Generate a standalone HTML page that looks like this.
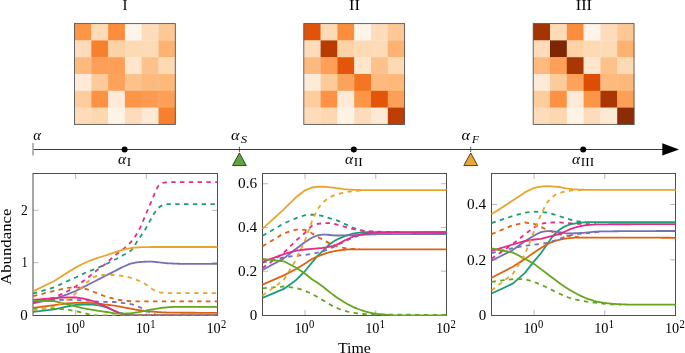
<!DOCTYPE html><html><head><meta charset="utf-8"><style>html,body{margin:0;padding:0;background:#fff;overflow:hidden}svg{display:block;will-change:transform}</style></head><body>
<svg width="685" height="353" viewBox="0 0 685 353">
<rect width="685" height="353" fill="#fff"/>
<text x="122.60" y="9.90" font-family="Liberation Serif, serif" font-size="15.5" textLength="5.00" lengthAdjust="spacingAndGlyphs">I</text>
<text x="349.00" y="9.90" font-family="Liberation Serif, serif" font-size="15.5" textLength="10.90" lengthAdjust="spacingAndGlyphs">II</text>
<text x="575.80" y="9.90" font-family="Liberation Serif, serif" font-size="15.5" textLength="16.10" lengthAdjust="spacingAndGlyphs">III</text>
<rect x="74.50" y="23.60" width="17.10" height="17.10" fill="#fd9547"/>
<rect x="91.30" y="23.60" width="17.10" height="17.10" fill="#fddbb7"/>
<rect x="108.10" y="23.60" width="17.10" height="17.10" fill="#fd8d3c"/>
<rect x="124.90" y="23.60" width="17.10" height="17.10" fill="#fff4e9"/>
<rect x="141.70" y="23.60" width="17.10" height="17.10" fill="#fedcbb"/>
<rect x="158.50" y="23.60" width="17.10" height="17.10" fill="#fdc895"/>
<rect x="74.50" y="40.40" width="17.10" height="17.10" fill="#fedcbb"/>
<rect x="91.30" y="40.40" width="17.10" height="17.10" fill="#f87f2c"/>
<rect x="108.10" y="40.40" width="17.10" height="17.10" fill="#fdd2a6"/>
<rect x="124.90" y="40.40" width="17.10" height="17.10" fill="#fdd9b4"/>
<rect x="141.70" y="40.40" width="17.10" height="17.10" fill="#fddbb7"/>
<rect x="158.50" y="40.40" width="17.10" height="17.10" fill="#fdb272"/>
<rect x="74.50" y="57.20" width="17.10" height="17.10" fill="#fdba7f"/>
<rect x="91.30" y="57.20" width="17.10" height="17.10" fill="#fd9f56"/>
<rect x="108.10" y="57.20" width="17.10" height="17.10" fill="#fd9f56"/>
<rect x="124.90" y="57.20" width="17.10" height="17.10" fill="#fee5cc"/>
<rect x="141.70" y="57.20" width="17.10" height="17.10" fill="#fdc28c"/>
<rect x="158.50" y="57.20" width="17.10" height="17.10" fill="#fdd9b4"/>
<rect x="74.50" y="74.00" width="17.10" height="17.10" fill="#feead6"/>
<rect x="91.30" y="74.00" width="17.10" height="17.10" fill="#fdcb99"/>
<rect x="108.10" y="74.00" width="17.10" height="17.10" fill="#fda25a"/>
<rect x="124.90" y="74.00" width="17.10" height="17.10" fill="#fdc28c"/>
<rect x="141.70" y="74.00" width="17.10" height="17.10" fill="#fdba7f"/>
<rect x="158.50" y="74.00" width="17.10" height="17.10" fill="#fdb87a"/>
<rect x="74.50" y="90.80" width="17.10" height="17.10" fill="#fdcd9e"/>
<rect x="91.30" y="90.80" width="17.10" height="17.10" fill="#fd9244"/>
<rect x="108.10" y="90.80" width="17.10" height="17.10" fill="#feead6"/>
<rect x="124.90" y="90.80" width="17.10" height="17.10" fill="#fd9547"/>
<rect x="141.70" y="90.80" width="17.10" height="17.10" fill="#fd9a4f"/>
<rect x="158.50" y="90.80" width="17.10" height="17.10" fill="#fd9f56"/>
<rect x="74.50" y="107.60" width="17.10" height="17.10" fill="#fedcbb"/>
<rect x="91.30" y="107.60" width="17.10" height="17.10" fill="#fdd7b0"/>
<rect x="108.10" y="107.60" width="17.10" height="17.10" fill="#fff3e6"/>
<rect x="124.90" y="107.60" width="17.10" height="17.10" fill="#fedcbb"/>
<rect x="141.70" y="107.60" width="17.10" height="17.10" fill="#fee9d4"/>
<rect x="158.50" y="107.60" width="17.10" height="17.10" fill="#f87f2c"/>
<rect x="74.50" y="23.60" width="100.80" height="100.80" fill="none" stroke="#555" stroke-width="0.9"/>
<rect x="303.80" y="23.60" width="17.10" height="17.10" fill="#e15307"/>
<rect x="320.60" y="23.60" width="17.10" height="17.10" fill="#fddbb7"/>
<rect x="337.40" y="23.60" width="17.10" height="17.10" fill="#fd8d3c"/>
<rect x="354.20" y="23.60" width="17.10" height="17.10" fill="#fff4e9"/>
<rect x="371.00" y="23.60" width="17.10" height="17.10" fill="#fedcbb"/>
<rect x="387.80" y="23.60" width="17.10" height="17.10" fill="#fdc895"/>
<rect x="303.80" y="40.40" width="17.10" height="17.10" fill="#fedcbb"/>
<rect x="320.60" y="40.40" width="17.10" height="17.10" fill="#b83c02"/>
<rect x="337.40" y="40.40" width="17.10" height="17.10" fill="#fdd2a6"/>
<rect x="354.20" y="40.40" width="17.10" height="17.10" fill="#fdd9b4"/>
<rect x="371.00" y="40.40" width="17.10" height="17.10" fill="#fddbb7"/>
<rect x="387.80" y="40.40" width="17.10" height="17.10" fill="#fdb272"/>
<rect x="303.80" y="57.20" width="17.10" height="17.10" fill="#fdba7f"/>
<rect x="320.60" y="57.20" width="17.10" height="17.10" fill="#fd9f56"/>
<rect x="337.40" y="57.20" width="17.10" height="17.10" fill="#e35508"/>
<rect x="354.20" y="57.20" width="17.10" height="17.10" fill="#fee5cc"/>
<rect x="371.00" y="57.20" width="17.10" height="17.10" fill="#fdc28c"/>
<rect x="387.80" y="57.20" width="17.10" height="17.10" fill="#fdd9b4"/>
<rect x="303.80" y="74.00" width="17.10" height="17.10" fill="#feead6"/>
<rect x="320.60" y="74.00" width="17.10" height="17.10" fill="#fdcb99"/>
<rect x="337.40" y="74.00" width="17.10" height="17.10" fill="#fda25a"/>
<rect x="354.20" y="74.00" width="17.10" height="17.10" fill="#f57622"/>
<rect x="371.00" y="74.00" width="17.10" height="17.10" fill="#fdba7f"/>
<rect x="387.80" y="74.00" width="17.10" height="17.10" fill="#fdb87a"/>
<rect x="303.80" y="90.80" width="17.10" height="17.10" fill="#fdcd9e"/>
<rect x="320.60" y="90.80" width="17.10" height="17.10" fill="#fd9244"/>
<rect x="337.40" y="90.80" width="17.10" height="17.10" fill="#feead6"/>
<rect x="354.20" y="90.80" width="17.10" height="17.10" fill="#fd9547"/>
<rect x="371.00" y="90.80" width="17.10" height="17.10" fill="#e35508"/>
<rect x="387.80" y="90.80" width="17.10" height="17.10" fill="#fd9f56"/>
<rect x="303.80" y="107.60" width="17.10" height="17.10" fill="#fedcbb"/>
<rect x="320.60" y="107.60" width="17.10" height="17.10" fill="#fdd7b0"/>
<rect x="337.40" y="107.60" width="17.10" height="17.10" fill="#fff3e6"/>
<rect x="354.20" y="107.60" width="17.10" height="17.10" fill="#fedcbb"/>
<rect x="371.00" y="107.60" width="17.10" height="17.10" fill="#fee9d4"/>
<rect x="387.80" y="107.60" width="17.10" height="17.10" fill="#bc3e02"/>
<rect x="303.80" y="23.60" width="100.80" height="100.80" fill="none" stroke="#555" stroke-width="0.9"/>
<rect x="533.20" y="23.60" width="17.10" height="17.10" fill="#a43503"/>
<rect x="550.00" y="23.60" width="17.10" height="17.10" fill="#fddbb7"/>
<rect x="566.80" y="23.60" width="17.10" height="17.10" fill="#fd8d3c"/>
<rect x="583.60" y="23.60" width="17.10" height="17.10" fill="#fff4e9"/>
<rect x="600.40" y="23.60" width="17.10" height="17.10" fill="#fedcbb"/>
<rect x="617.20" y="23.60" width="17.10" height="17.10" fill="#fdc895"/>
<rect x="533.20" y="40.40" width="17.10" height="17.10" fill="#fedcbb"/>
<rect x="550.00" y="40.40" width="17.10" height="17.10" fill="#7f2704"/>
<rect x="566.80" y="40.40" width="17.10" height="17.10" fill="#fdd2a6"/>
<rect x="583.60" y="40.40" width="17.10" height="17.10" fill="#fdd9b4"/>
<rect x="600.40" y="40.40" width="17.10" height="17.10" fill="#fddbb7"/>
<rect x="617.20" y="40.40" width="17.10" height="17.10" fill="#fdb272"/>
<rect x="533.20" y="57.20" width="17.10" height="17.10" fill="#fdba7f"/>
<rect x="550.00" y="57.20" width="17.10" height="17.10" fill="#fd9f56"/>
<rect x="566.80" y="57.20" width="17.10" height="17.10" fill="#a83703"/>
<rect x="583.60" y="57.20" width="17.10" height="17.10" fill="#fee5cc"/>
<rect x="600.40" y="57.20" width="17.10" height="17.10" fill="#fdc28c"/>
<rect x="617.20" y="57.20" width="17.10" height="17.10" fill="#fdd9b4"/>
<rect x="533.20" y="74.00" width="17.10" height="17.10" fill="#feead6"/>
<rect x="550.00" y="74.00" width="17.10" height="17.10" fill="#fdcb99"/>
<rect x="566.80" y="74.00" width="17.10" height="17.10" fill="#fda25a"/>
<rect x="583.60" y="74.00" width="17.10" height="17.10" fill="#dd4d04"/>
<rect x="600.40" y="74.00" width="17.10" height="17.10" fill="#fdba7f"/>
<rect x="617.20" y="74.00" width="17.10" height="17.10" fill="#fdb87a"/>
<rect x="533.20" y="90.80" width="17.10" height="17.10" fill="#fdcd9e"/>
<rect x="550.00" y="90.80" width="17.10" height="17.10" fill="#fd9244"/>
<rect x="566.80" y="90.80" width="17.10" height="17.10" fill="#feead6"/>
<rect x="583.60" y="90.80" width="17.10" height="17.10" fill="#fd9547"/>
<rect x="600.40" y="90.80" width="17.10" height="17.10" fill="#a83703"/>
<rect x="617.20" y="90.80" width="17.10" height="17.10" fill="#fd9f56"/>
<rect x="533.20" y="107.60" width="17.10" height="17.10" fill="#fedcbb"/>
<rect x="550.00" y="107.60" width="17.10" height="17.10" fill="#fdd7b0"/>
<rect x="566.80" y="107.60" width="17.10" height="17.10" fill="#fff3e6"/>
<rect x="583.60" y="107.60" width="17.10" height="17.10" fill="#fedcbb"/>
<rect x="600.40" y="107.60" width="17.10" height="17.10" fill="#fee9d4"/>
<rect x="617.20" y="107.60" width="17.10" height="17.10" fill="#8b2c04"/>
<rect x="533.20" y="23.60" width="100.80" height="100.80" fill="none" stroke="#555" stroke-width="0.9"/>
<line x1="33.2" y1="149.5" x2="664" y2="149.5" stroke="#3a3a3a" stroke-width="1.1"/>
<line x1="33.0" y1="143.0" x2="33.0" y2="155.6" stroke="#a8a8a8" stroke-width="1.7"/>
<path d="M662.3,143.2 L679,149.4 L662.3,155.6 Z" fill="#000"/>
<circle cx="124.6" cy="149.5" r="3" fill="#000"/>
<circle cx="353.8" cy="149.5" r="3" fill="#000"/>
<circle cx="583.2" cy="149.5" r="3" fill="#000"/>
<line x1="239.4" y1="146.8" x2="239.4" y2="152" stroke="#333" stroke-width="0.8"/>
<path d="M239.4,152.9 L246.3,165.6 L232.5,165.6 Z" fill="#5fa53a" stroke="#111" stroke-width="0.75" stroke-linejoin="miter"/>
<line x1="470.7" y1="146.8" x2="470.7" y2="152" stroke="#333" stroke-width="0.8"/>
<path d="M470.7,152.9 L477.59999999999997,165.6 L463.8,165.6 Z" fill="#eba82e" stroke="#111" stroke-width="0.75" stroke-linejoin="miter"/>
<text x="33.30" y="140.00" font-family="Liberation Serif, serif" font-size="15" font-style="italic" textLength="7.70" lengthAdjust="spacingAndGlyphs">α</text>
<text x="230.90" y="140.00" font-family="Liberation Serif, serif" font-size="15" font-style="italic" textLength="8.50" lengthAdjust="spacingAndGlyphs">α</text>
<text x="240.80" y="142.70" font-family="Liberation Serif, serif" font-size="11.2" font-style="italic" textLength="6.40" lengthAdjust="spacingAndGlyphs">S</text>
<text x="461.40" y="140.00" font-family="Liberation Serif, serif" font-size="15" font-style="italic" textLength="8.50" lengthAdjust="spacingAndGlyphs">α</text>
<text x="472.00" y="142.70" font-family="Liberation Serif, serif" font-size="11.2" font-style="italic" textLength="6.90" lengthAdjust="spacingAndGlyphs">F</text>
<text x="117.90" y="163.80" font-family="Liberation Serif, serif" font-size="15" font-style="italic" textLength="8.10" lengthAdjust="spacingAndGlyphs">α</text>
<text x="126.80" y="165.90" font-family="Liberation Serif, serif" font-size="12.4" textLength="4.40" lengthAdjust="spacingAndGlyphs">I</text>
<text x="344.90" y="163.80" font-family="Liberation Serif, serif" font-size="15" font-style="italic" textLength="8.10" lengthAdjust="spacingAndGlyphs">α</text>
<text x="353.80" y="165.90" font-family="Liberation Serif, serif" font-size="12.4" textLength="8.90" lengthAdjust="spacingAndGlyphs">II</text>
<text x="571.90" y="163.80" font-family="Liberation Serif, serif" font-size="15" font-style="italic" textLength="8.10" lengthAdjust="spacingAndGlyphs">α</text>
<text x="580.80" y="165.90" font-family="Liberation Serif, serif" font-size="12.4" textLength="13.30" lengthAdjust="spacingAndGlyphs">III</text>
<clipPath id="clip0"><rect x="32.4" y="172.9" width="185.7" height="143.0"/></clipPath>
<line x1="75.57" y1="315.5" x2="75.57" y2="310.0" stroke="#b0b0b0" stroke-width="0.9"/>
<line x1="75.57" y1="173.5" x2="75.57" y2="179.0" stroke="#b0b0b0" stroke-width="0.9"/>
<line x1="146.29" y1="315.5" x2="146.29" y2="310.0" stroke="#b0b0b0" stroke-width="0.9"/>
<line x1="146.29" y1="173.5" x2="146.29" y2="179.0" stroke="#b0b0b0" stroke-width="0.9"/>
<line x1="33.0" y1="262.70" x2="38.5" y2="262.70" stroke="#b0b0b0" stroke-width="0.9"/>
<line x1="217.5" y1="262.70" x2="212.0" y2="262.70" stroke="#b0b0b0" stroke-width="0.9"/>
<line x1="33.0" y1="210.30" x2="38.5" y2="210.30" stroke="#b0b0b0" stroke-width="0.9"/>
<line x1="217.5" y1="210.30" x2="212.0" y2="210.30" stroke="#b0b0b0" stroke-width="0.9"/>
<rect x="33.0" y="173.5" width="184.5" height="142.0" fill="none" stroke="#4d4d4d" stroke-width="1"/>
<g clip-path="url(#clip0)">
<path d="M33.0,311.90 L54.3,309.37 L66.7,306.67 L75.6,304.94 L82.4,304.50 L88.0,304.50 L92.8,304.56 L96.9,305.06 L100.5,305.68 L103.7,306.56 L106.6,307.52 L109.3,308.61 L111.8,309.70 L114.0,310.72 L116.2,311.64 L118.1,312.28 L120.0,312.79 L121.8,313.22 L123.4,313.59 L125.0,313.90 L126.5,314.17 L127.9,314.41 L129.3,314.66 L130.6,314.88 L131.9,315.07 L133.1,315.21 L134.2,315.28 L135.3,315.30 L136.4,315.30 L137.5,315.30 L138.5,315.30 L139.4,315.30 L140.4,315.30 L141.3,315.30 L142.2,315.30 L143.1,315.30 L143.9,315.30 L144.7,315.30 L146.3,315.30 L147.8,315.30 L149.2,315.30 L150.6,315.30 L151.9,315.30 L153.1,315.30 L154.3,315.30 L155.5,315.30 L156.6,315.30 L157.7,315.30 L158.7,315.30 L159.7,315.30 L160.7,315.30 L161.7,315.30 L162.6,315.30 L163.5,315.30 L164.3,315.30 L165.2,315.30 L166.0,315.30 L167.2,315.30 L168.3,315.30 L169.4,315.30 L170.5,315.30 L171.5,315.30 L172.5,315.30 L173.5,315.30 L174.4,315.30 L175.3,315.30 L176.2,315.30 L177.1,315.30 L177.9,315.30 L178.7,315.30 L179.8,315.30 L180.8,315.30 L181.8,315.30 L182.7,315.30 L183.6,315.30 L184.5,315.30 L185.4,315.30 L186.3,315.30 L187.1,315.30 L187.9,315.30 L188.9,315.30 L189.8,315.30 L190.7,315.30 L191.6,315.30 L192.5,315.30 L193.3,315.30 L194.1,315.30 L195.1,315.30 L196.0,315.30 L196.9,315.30 L197.8,315.30 L198.6,315.30 L199.5,315.30 L200.3,315.30 L201.2,315.30 L202.1,315.30 L202.9,315.30 L203.8,315.30 L204.6,315.30 L205.5,315.30 L206.4,315.30 L207.2,315.30 L208.1,315.30 L208.9,315.30 L209.8,315.30 L210.6,315.30 L211.5,315.30 L212.3,315.30 L213.2,315.30 L214.0,315.30 L214.9,315.30 L215.7,315.30 L216.5,315.30 L217.5,315.30" fill="none" stroke="#1b9e77" stroke-width="1.8" stroke-linejoin="round"/>
<path d="M33.0,293.60 L54.3,287.23 L66.7,281.45 L75.6,277.46 L82.4,274.08 L88.0,271.71 L92.8,269.83 L96.9,268.15 L100.5,266.61 L103.7,265.19 L106.6,263.86 L109.3,262.56 L111.8,261.31 L114.0,260.10 L116.2,258.95 L118.1,257.86 L120.0,256.83 L121.8,255.88 L123.4,255.05 L125.0,254.28 L126.5,253.51 L127.9,252.70 L129.3,251.81 L130.6,250.82 L131.9,249.65 L133.1,248.10 L134.2,246.32 L135.3,244.45 L136.4,242.61 L137.5,240.90 L138.5,239.37 L139.4,237.97 L140.4,236.64 L141.3,235.35 L142.2,234.09 L143.1,232.85 L143.9,231.60 L144.7,230.34 L146.3,227.72 L147.8,224.97 L149.2,222.27 L150.6,219.78 L151.9,217.49 L153.1,215.27 L154.3,213.24 L155.5,211.49 L156.6,210.05 L157.7,208.74 L158.7,207.60 L159.7,206.72 L160.7,206.13 L161.7,205.65 L162.6,205.22 L163.5,204.85 L164.3,204.56 L165.2,204.35 L166.0,204.23 L167.2,204.20 L168.3,204.20 L169.4,204.20 L170.5,204.20 L171.5,204.20 L172.5,204.20 L173.5,204.20 L174.4,204.20 L175.3,204.20 L176.2,204.20 L177.1,204.20 L177.9,204.20 L178.7,204.20 L179.8,204.20 L180.8,204.20 L181.8,204.20 L182.7,204.20 L183.6,204.20 L184.5,204.20 L185.4,204.20 L186.3,204.20 L187.1,204.20 L187.9,204.20 L188.9,204.20 L189.8,204.20 L190.7,204.20 L191.6,204.20 L192.5,204.20 L193.3,204.20 L194.1,204.20 L195.1,204.20 L196.0,204.20 L196.9,204.20 L197.8,204.20 L198.6,204.20 L199.5,204.20 L200.3,204.20 L201.2,204.20 L202.1,204.20 L202.9,204.20 L203.8,204.20 L204.6,204.20 L205.5,204.20 L206.4,204.20 L207.2,204.20 L208.1,204.20 L208.9,204.20 L209.8,204.20 L210.6,204.20 L211.5,204.20 L212.3,204.20 L213.2,204.20 L214.0,204.20 L214.9,204.20 L215.7,204.20 L216.5,204.20 L217.5,204.20" fill="none" stroke="#1b9e77" stroke-width="1.8" stroke-linejoin="round" stroke-dasharray="4.4 4.4"/>
<path d="M33.0,307.80 L54.3,305.10 L66.7,303.40 L75.6,302.79 L82.4,302.60 L88.0,302.85 L92.8,303.22 L96.9,303.61 L100.5,303.98 L103.7,304.33 L106.6,304.68 L109.3,305.01 L111.8,305.34 L114.0,305.66 L116.2,305.97 L118.1,306.29 L120.0,306.61 L121.8,306.95 L123.4,307.28 L125.0,307.61 L126.5,307.91 L127.9,308.18 L129.3,308.44 L130.6,308.69 L131.9,308.93 L133.1,309.15 L134.2,309.35 L135.3,309.54 L136.4,309.72 L137.5,309.88 L138.5,310.03 L139.4,310.18 L140.4,310.31 L141.3,310.44 L142.2,310.56 L143.1,310.67 L143.9,310.77 L144.7,310.87 L146.3,311.04 L147.8,311.18 L149.2,311.31 L150.6,311.43 L151.9,311.54 L153.1,311.65 L154.3,311.74 L155.5,311.84 L156.6,311.94 L157.7,312.03 L158.7,312.11 L159.7,312.19 L160.7,312.26 L161.7,312.32 L162.6,312.36 L163.5,312.40 L164.3,312.44 L165.2,312.47 L166.0,312.50 L167.2,312.54 L168.3,312.57 L169.4,312.61 L170.5,312.63 L171.5,312.65 L172.5,312.67 L173.5,312.69 L174.4,312.70 L175.3,312.70 L176.2,312.71 L177.1,312.71 L177.9,312.71 L178.7,312.72 L179.8,312.72 L180.8,312.73 L181.8,312.73 L182.7,312.74 L183.6,312.74 L184.5,312.74 L185.4,312.75 L186.3,312.75 L187.1,312.75 L187.9,312.75 L188.9,312.76 L189.8,312.76 L190.7,312.76 L191.6,312.77 L192.5,312.77 L193.3,312.77 L194.1,312.77 L195.1,312.77 L196.0,312.78 L196.9,312.78 L197.8,312.78 L198.6,312.78 L199.5,312.78 L200.3,312.79 L201.2,312.79 L202.1,312.79 L202.9,312.79 L203.8,312.79 L204.6,312.79 L205.5,312.79 L206.4,312.79 L207.2,312.79 L208.1,312.80 L208.9,312.80 L209.8,312.80 L210.6,312.80 L211.5,312.80 L212.3,312.80 L213.2,312.80 L214.0,312.80 L214.9,312.80 L215.7,312.80 L216.5,312.80 L217.5,312.80" fill="none" stroke="#dc6210" stroke-width="1.8" stroke-linejoin="round"/>
<path d="M33.0,296.25 L54.3,290.80 L66.7,287.88 L75.6,287.24 L82.4,287.90 L88.0,289.60 L92.8,291.44 L96.9,293.08 L100.5,294.59 L103.7,295.78 L106.6,296.72 L109.3,297.52 L111.8,298.18 L114.0,298.72 L116.2,299.21 L118.1,299.64 L120.0,300.01 L121.8,300.31 L123.4,300.53 L125.0,300.71 L126.5,300.86 L127.9,301.01 L129.3,301.13 L130.6,301.23 L131.9,301.31 L133.1,301.37 L134.2,301.40 L135.3,301.40 L136.4,301.40 L137.5,301.40 L138.5,301.40 L139.4,301.40 L140.4,301.40 L141.3,301.40 L142.2,301.40 L143.1,301.40 L143.9,301.40 L144.7,301.40 L146.3,301.40 L147.8,301.40 L149.2,301.40 L150.6,301.40 L151.9,301.40 L153.1,301.40 L154.3,301.40 L155.5,301.40 L156.6,301.40 L157.7,301.40 L158.7,301.40 L159.7,301.40 L160.7,301.40 L161.7,301.40 L162.6,301.40 L163.5,301.40 L164.3,301.40 L165.2,301.40 L166.0,301.40 L167.2,301.40 L168.3,301.40 L169.4,301.40 L170.5,301.40 L171.5,301.40 L172.5,301.40 L173.5,301.40 L174.4,301.40 L175.3,301.40 L176.2,301.40 L177.1,301.40 L177.9,301.40 L178.7,301.40 L179.8,301.40 L180.8,301.40 L181.8,301.40 L182.7,301.40 L183.6,301.40 L184.5,301.40 L185.4,301.40 L186.3,301.40 L187.1,301.40 L187.9,301.40 L188.9,301.40 L189.8,301.40 L190.7,301.40 L191.6,301.40 L192.5,301.40 L193.3,301.40 L194.1,301.40 L195.1,301.40 L196.0,301.40 L196.9,301.40 L197.8,301.40 L198.6,301.40 L199.5,301.40 L200.3,301.40 L201.2,301.40 L202.1,301.40 L202.9,301.40 L203.8,301.40 L204.6,301.40 L205.5,301.40 L206.4,301.40 L207.2,301.40 L208.1,301.40 L208.9,301.40 L209.8,301.40 L210.6,301.40 L211.5,301.40 L212.3,301.40 L213.2,301.40 L214.0,301.40 L214.9,301.40 L215.7,301.40 L216.5,301.40 L217.5,301.40" fill="none" stroke="#dc6210" stroke-width="1.8" stroke-linejoin="round" stroke-dasharray="4.4 4.4"/>
<path d="M33.0,303.30 L54.3,298.76 L66.7,294.70 L75.6,291.04 L82.4,287.62 L88.0,284.69 L92.8,282.30 L96.9,280.23 L100.5,278.41 L103.7,276.76 L106.6,275.27 L109.3,273.92 L111.8,272.67 L114.0,271.51 L116.2,270.40 L118.1,269.36 L120.0,268.39 L121.8,267.51 L123.4,266.71 L125.0,266.00 L126.5,265.34 L127.9,264.71 L129.3,264.17 L130.6,263.74 L131.9,263.41 L133.1,263.12 L134.2,262.86 L135.3,262.63 L136.4,262.44 L137.5,262.27 L138.5,262.14 L139.4,262.04 L140.4,261.98 L141.3,261.92 L142.2,261.86 L143.1,261.81 L143.9,261.77 L144.7,261.73 L146.3,261.67 L147.8,261.62 L149.2,261.60 L150.6,261.61 L151.9,261.66 L153.1,261.75 L154.3,261.86 L155.5,261.99 L156.6,262.12 L157.7,262.25 L158.7,262.37 L159.7,262.48 L160.7,262.57 L161.7,262.67 L162.6,262.77 L163.5,262.87 L164.3,262.96 L165.2,263.05 L166.0,263.13 L167.2,263.23 L168.3,263.30 L169.4,263.36 L170.5,263.42 L171.5,263.47 L172.5,263.52 L173.5,263.56 L174.4,263.61 L175.3,263.64 L176.2,263.68 L177.1,263.71 L177.9,263.73 L178.7,263.75 L179.8,263.77 L180.8,263.79 L181.8,263.80 L182.7,263.80 L183.6,263.80 L184.5,263.80 L185.4,263.80 L186.3,263.80 L187.1,263.80 L187.9,263.80 L188.9,263.80 L189.8,263.80 L190.7,263.80 L191.6,263.80 L192.5,263.80 L193.3,263.80 L194.1,263.80 L195.1,263.80 L196.0,263.80 L196.9,263.80 L197.8,263.80 L198.6,263.80 L199.5,263.80 L200.3,263.80 L201.2,263.80 L202.1,263.80 L202.9,263.80 L203.8,263.80 L204.6,263.80 L205.5,263.80 L206.4,263.80 L207.2,263.80 L208.1,263.80 L208.9,263.80 L209.8,263.80 L210.6,263.80 L211.5,263.80 L212.3,263.80 L213.2,263.80 L214.0,263.80 L214.9,263.80 L215.7,263.80 L216.5,263.80 L217.5,263.80" fill="none" stroke="#7570b3" stroke-width="1.8" stroke-linejoin="round"/>
<path d="M33.0,301.01 L54.3,300.11 L66.7,299.90 L75.6,299.98 L82.4,300.28 L88.0,300.72 L92.8,301.18 L96.9,301.52 L100.5,301.72 L103.7,301.86 L106.6,301.92 L109.3,301.95 L111.8,301.97 L114.0,302.02 L116.2,302.16 L118.1,302.37 L120.0,302.61 L121.8,302.83 L123.4,303.04 L125.0,303.23 L126.5,303.43 L127.9,303.64 L129.3,303.87 L130.6,304.12 L131.9,304.40 L133.1,304.72 L134.2,305.09 L135.3,305.48 L136.4,305.89 L137.5,306.31 L138.5,306.73 L139.4,307.14 L140.4,307.56 L141.3,308.02 L142.2,308.51 L143.1,309.01 L143.9,309.51 L144.7,310.00 L146.3,310.90 L147.8,311.64 L149.2,312.28 L150.6,312.87 L151.9,313.40 L153.1,313.84 L154.3,314.21 L155.5,314.51 L156.6,314.79 L157.7,315.04 L158.7,315.21 L159.7,315.30 L160.7,315.30 L161.7,315.30 L162.6,315.30 L163.5,315.30 L164.3,315.30 L165.2,315.30 L166.0,315.30 L167.2,315.30 L168.3,315.30 L169.4,315.30 L170.5,315.30 L171.5,315.30 L172.5,315.30 L173.5,315.30 L174.4,315.30 L175.3,315.30 L176.2,315.30 L177.1,315.30 L177.9,315.30 L178.7,315.30 L179.8,315.30 L180.8,315.30 L181.8,315.30 L182.7,315.30 L183.6,315.30 L184.5,315.30 L185.4,315.30 L186.3,315.30 L187.1,315.30 L187.9,315.30 L188.9,315.30 L189.8,315.30 L190.7,315.30 L191.6,315.30 L192.5,315.30 L193.3,315.30 L194.1,315.30 L195.1,315.30 L196.0,315.30 L196.9,315.30 L197.8,315.30 L198.6,315.30 L199.5,315.30 L200.3,315.30 L201.2,315.30 L202.1,315.30 L202.9,315.30 L203.8,315.30 L204.6,315.30 L205.5,315.30 L206.4,315.30 L207.2,315.30 L208.1,315.30 L208.9,315.30 L209.8,315.30 L210.6,315.30 L211.5,315.30 L212.3,315.30 L213.2,315.30 L214.0,315.30 L214.9,315.30 L215.7,315.30 L216.5,315.30 L217.5,315.30" fill="none" stroke="#7570b3" stroke-width="1.8" stroke-linejoin="round" stroke-dasharray="4.4 4.4"/>
<path d="M33.0,300.02 L54.3,298.19 L66.7,297.41 L75.6,297.49 L82.4,298.41 L88.0,299.62 L92.8,301.02 L96.9,302.67 L100.5,304.23 L103.7,305.61 L106.6,306.91 L109.3,308.18 L111.8,309.43 L114.0,310.59 L116.2,311.63 L118.1,312.62 L120.0,313.43 L121.8,314.02 L123.4,314.56 L125.0,314.99 L126.5,315.25 L127.9,315.30 L129.3,315.30 L130.6,315.30 L131.9,315.30 L133.1,315.30 L134.2,315.30 L135.3,315.30 L136.4,315.30 L137.5,315.30 L138.5,315.30 L139.4,315.30 L140.4,315.30 L141.3,315.30 L142.2,315.30 L143.1,315.30 L143.9,315.30 L144.7,315.30 L146.3,315.30 L147.8,315.30 L149.2,315.30 L150.6,315.30 L151.9,315.30 L153.1,315.30 L154.3,315.30 L155.5,315.30 L156.6,315.30 L157.7,315.30 L158.7,315.30 L159.7,315.30 L160.7,315.30 L161.7,315.30 L162.6,315.30 L163.5,315.30 L164.3,315.30 L165.2,315.30 L166.0,315.30 L167.2,315.30 L168.3,315.30 L169.4,315.30 L170.5,315.30 L171.5,315.30 L172.5,315.30 L173.5,315.30 L174.4,315.30 L175.3,315.30 L176.2,315.30 L177.1,315.30 L177.9,315.30 L178.7,315.30 L179.8,315.30 L180.8,315.30 L181.8,315.30 L182.7,315.30 L183.6,315.30 L184.5,315.30 L185.4,315.30 L186.3,315.30 L187.1,315.30 L187.9,315.30 L188.9,315.30 L189.8,315.30 L190.7,315.30 L191.6,315.30 L192.5,315.30 L193.3,315.30 L194.1,315.30 L195.1,315.30 L196.0,315.30 L196.9,315.30 L197.8,315.30 L198.6,315.30 L199.5,315.30 L200.3,315.30 L201.2,315.30 L202.1,315.30 L202.9,315.30 L203.8,315.30 L204.6,315.30 L205.5,315.30 L206.4,315.30 L207.2,315.30 L208.1,315.30 L208.9,315.30 L209.8,315.30 L210.6,315.30 L211.5,315.30 L212.3,315.30 L213.2,315.30 L214.0,315.30 L214.9,315.30 L215.7,315.30 L216.5,315.30 L217.5,315.30" fill="none" stroke="#e7298a" stroke-width="1.8" stroke-linejoin="round"/>
<path d="M33.0,302.75 L54.3,297.51 L66.7,291.74 L75.6,286.40 L82.4,281.70 L88.0,277.44 L92.8,273.51 L96.9,270.22 L100.5,267.61 L103.7,265.28 L106.6,262.96 L109.3,260.49 L111.8,258.14 L114.0,256.13 L116.2,254.46 L118.1,253.00 L120.0,251.64 L121.8,250.32 L123.4,248.98 L125.0,247.61 L126.5,246.28 L127.9,244.95 L129.3,243.62 L130.6,242.26 L131.9,240.86 L133.1,239.40 L134.2,237.87 L135.3,236.25 L136.4,234.57 L137.5,232.83 L138.5,231.04 L139.4,229.23 L140.4,227.29 L141.3,225.18 L142.2,223.02 L143.1,220.89 L143.9,218.88 L144.7,216.97 L146.3,213.26 L147.8,209.74 L149.2,206.40 L150.6,203.18 L151.9,200.09 L153.1,197.18 L154.3,194.50 L155.5,191.79 L156.6,189.13 L157.7,186.95 L158.7,185.57 L159.7,184.70 L160.7,183.98 L161.7,183.39 L162.6,182.96 L163.5,182.68 L164.3,182.57 L165.2,182.49 L166.0,182.41 L167.2,182.32 L168.3,182.25 L169.4,182.19 L170.5,182.15 L171.5,182.12 L172.5,182.11 L173.5,182.10 L174.4,182.10 L175.3,182.10 L176.2,182.10 L177.1,182.10 L177.9,182.10 L178.7,182.10 L179.8,182.10 L180.8,182.10 L181.8,182.10 L182.7,182.10 L183.6,182.10 L184.5,182.10 L185.4,182.10 L186.3,182.10 L187.1,182.10 L187.9,182.10 L188.9,182.10 L189.8,182.10 L190.7,182.10 L191.6,182.10 L192.5,182.10 L193.3,182.10 L194.1,182.10 L195.1,182.10 L196.0,182.10 L196.9,182.10 L197.8,182.10 L198.6,182.10 L199.5,182.10 L200.3,182.10 L201.2,182.10 L202.1,182.10 L202.9,182.10 L203.8,182.10 L204.6,182.10 L205.5,182.10 L206.4,182.10 L207.2,182.10 L208.1,182.10 L208.9,182.10 L209.8,182.10 L210.6,182.10 L211.5,182.10 L212.3,182.10 L213.2,182.10 L214.0,182.10 L214.9,182.10 L215.7,182.10 L216.5,182.10 L217.5,182.10" fill="none" stroke="#e7298a" stroke-width="1.8" stroke-linejoin="round" stroke-dasharray="4.4 4.4"/>
<path d="M33.0,300.90 L54.3,301.20 L66.7,304.07 L75.6,306.35 L82.4,308.08 L88.0,309.09 L92.8,309.86 L96.9,310.55 L100.5,311.12 L103.7,311.60 L106.6,312.01 L109.3,312.40 L111.8,312.81 L114.0,313.19 L116.2,313.46 L118.1,313.59 L120.0,313.60 L121.8,313.59 L123.4,313.57 L125.0,313.55 L126.5,313.52 L127.9,313.49 L129.3,313.41 L130.6,313.29 L131.9,313.14 L133.1,312.98 L134.2,312.81 L135.3,312.64 L136.4,312.48 L137.5,312.32 L138.5,312.14 L139.4,311.96 L140.4,311.76 L141.3,311.57 L142.2,311.38 L143.1,311.20 L143.9,311.02 L144.7,310.86 L146.3,310.54 L147.8,310.23 L149.2,309.94 L150.6,309.70 L151.9,309.50 L153.1,309.32 L154.3,309.14 L155.5,308.95 L156.6,308.73 L157.7,308.52 L158.7,308.31 L159.7,308.14 L160.7,308.00 L161.7,307.87 L162.6,307.76 L163.5,307.66 L164.3,307.57 L165.2,307.48 L166.0,307.40 L167.2,307.30 L168.3,307.20 L169.4,307.13 L170.5,307.08 L171.5,307.03 L172.5,306.99 L173.5,306.96 L174.4,306.93 L175.3,306.91 L176.2,306.90 L177.1,306.88 L177.9,306.87 L178.7,306.86 L179.8,306.84 L180.8,306.83 L181.8,306.82 L182.7,306.81 L183.6,306.80 L184.5,306.80 L185.4,306.80 L186.3,306.80 L187.1,306.80 L187.9,306.80 L188.9,306.80 L189.8,306.80 L190.7,306.80 L191.6,306.80 L192.5,306.80 L193.3,306.80 L194.1,306.80 L195.1,306.80 L196.0,306.80 L196.9,306.80 L197.8,306.80 L198.6,306.80 L199.5,306.80 L200.3,306.80 L201.2,306.80 L202.1,306.80 L202.9,306.80 L203.8,306.80 L204.6,306.80 L205.5,306.80 L206.4,306.80 L207.2,306.80 L208.1,306.80 L208.9,306.80 L209.8,306.80 L210.6,306.80 L211.5,306.80 L212.3,306.80 L213.2,306.80 L214.0,306.80 L214.9,306.80 L215.7,306.80 L216.5,306.80 L217.5,306.80" fill="none" stroke="#66a61e" stroke-width="1.8" stroke-linejoin="round"/>
<path d="M33.0,308.60 L54.3,308.60 L66.7,309.43 L75.6,311.12 L82.4,312.78 L88.0,314.01 L92.8,315.02 L96.9,315.30 L100.5,315.30 L103.7,315.30 L106.6,315.30 L109.3,315.30 L111.8,315.30 L114.0,315.30 L116.2,315.30 L118.1,315.30 L120.0,315.30 L121.8,315.30 L123.4,315.30 L125.0,315.30 L126.5,315.30 L127.9,315.30 L129.3,315.30 L130.6,315.30 L131.9,315.30 L133.1,315.30 L134.2,315.30 L135.3,315.30 L136.4,315.30 L137.5,315.30 L138.5,315.30 L139.4,315.30 L140.4,315.30 L141.3,315.30 L142.2,315.30 L143.1,315.30 L143.9,315.30 L144.7,315.30 L146.3,315.30 L147.8,315.30 L149.2,315.30 L150.6,315.30 L151.9,315.30 L153.1,315.30 L154.3,315.30 L155.5,315.30 L156.6,315.30 L157.7,315.30 L158.7,315.30 L159.7,315.30 L160.7,315.30 L161.7,315.30 L162.6,315.30 L163.5,315.30 L164.3,315.30 L165.2,315.30 L166.0,315.30 L167.2,315.30 L168.3,315.30 L169.4,315.30 L170.5,315.30 L171.5,315.30 L172.5,315.30 L173.5,315.30 L174.4,315.30 L175.3,315.30 L176.2,315.30 L177.1,315.30 L177.9,315.30 L178.7,315.30 L179.8,315.30 L180.8,315.30 L181.8,315.30 L182.7,315.30 L183.6,315.30 L184.5,315.30 L185.4,315.30 L186.3,315.30 L187.1,315.30 L187.9,315.30 L188.9,315.30 L189.8,315.30 L190.7,315.30 L191.6,315.30 L192.5,315.30 L193.3,315.30 L194.1,315.30 L195.1,315.30 L196.0,315.30 L196.9,315.30 L197.8,315.30 L198.6,315.30 L199.5,315.30 L200.3,315.30 L201.2,315.30 L202.1,315.30 L202.9,315.30 L203.8,315.30 L204.6,315.30 L205.5,315.30 L206.4,315.30 L207.2,315.30 L208.1,315.30 L208.9,315.30 L209.8,315.30 L210.6,315.30 L211.5,315.30 L212.3,315.30 L213.2,315.30 L214.0,315.30 L214.9,315.30 L215.7,315.30 L216.5,315.30 L217.5,315.30" fill="none" stroke="#66a61e" stroke-width="1.8" stroke-linejoin="round" stroke-dasharray="4.4 4.4"/>
<path d="M33.0,291.40 L54.3,281.01 L66.7,272.91 L75.6,267.61 L82.4,264.00 L88.0,261.51 L92.8,259.67 L96.9,258.20 L100.5,257.00 L103.7,255.99 L106.6,255.08 L109.3,254.23 L111.8,253.39 L114.0,252.57 L116.2,251.81 L118.1,251.13 L120.0,250.56 L121.8,250.09 L123.4,249.65 L125.0,249.25 L126.5,248.90 L127.9,248.60 L129.3,248.35 L130.6,248.15 L131.9,248.00 L133.1,247.86 L134.2,247.73 L135.3,247.62 L136.4,247.52 L137.5,247.43 L138.5,247.36 L139.4,247.29 L140.4,247.25 L141.3,247.21 L142.2,247.18 L143.1,247.16 L143.9,247.14 L144.7,247.12 L146.3,247.08 L147.8,247.05 L149.2,247.03 L150.6,247.01 L151.9,247.00 L153.1,247.00 L154.3,247.00 L155.5,247.00 L156.6,247.00 L157.7,247.00 L158.7,247.00 L159.7,247.00 L160.7,247.00 L161.7,247.00 L162.6,247.00 L163.5,247.00 L164.3,247.00 L165.2,247.00 L166.0,247.00 L167.2,247.00 L168.3,247.00 L169.4,247.00 L170.5,247.00 L171.5,247.00 L172.5,247.00 L173.5,247.00 L174.4,247.00 L175.3,247.00 L176.2,247.00 L177.1,247.00 L177.9,247.00 L178.7,247.00 L179.8,247.00 L180.8,247.00 L181.8,247.00 L182.7,247.00 L183.6,247.00 L184.5,247.00 L185.4,247.00 L186.3,247.00 L187.1,247.00 L187.9,247.00 L188.9,247.00 L189.8,247.00 L190.7,247.00 L191.6,247.00 L192.5,247.00 L193.3,247.00 L194.1,247.00 L195.1,247.00 L196.0,247.00 L196.9,247.00 L197.8,247.00 L198.6,247.00 L199.5,247.00 L200.3,247.00 L201.2,247.00 L202.1,247.00 L202.9,247.00 L203.8,247.00 L204.6,247.00 L205.5,247.00 L206.4,247.00 L207.2,247.00 L208.1,247.00 L208.9,247.00 L209.8,247.00 L210.6,247.00 L211.5,247.00 L212.3,247.00 L213.2,247.00 L214.0,247.00 L214.9,247.00 L215.7,247.00 L216.5,247.00 L217.5,247.00" fill="none" stroke="#e9a52a" stroke-width="1.8" stroke-linejoin="round"/>
<path d="M33.0,310.40 L54.3,306.55 L66.7,300.63 L75.6,293.47 L82.4,286.76 L88.0,281.58 L92.8,277.47 L96.9,275.95 L100.5,275.24 L103.7,275.01 L106.6,274.87 L109.3,274.81 L111.8,274.83 L114.0,274.99 L116.2,275.22 L118.1,275.47 L120.0,275.71 L121.8,275.96 L123.4,276.24 L125.0,276.53 L126.5,276.84 L127.9,277.15 L129.3,277.47 L130.6,277.81 L131.9,278.17 L133.1,278.54 L134.2,278.93 L135.3,279.33 L136.4,279.73 L137.5,280.14 L138.5,280.55 L139.4,280.98 L140.4,281.43 L141.3,281.88 L142.2,282.33 L143.1,282.79 L143.9,283.26 L144.7,283.72 L146.3,284.67 L147.8,285.73 L149.2,286.84 L150.6,287.88 L151.9,288.78 L153.1,289.48 L154.3,290.11 L155.5,290.70 L156.6,291.24 L157.7,291.71 L158.7,292.09 L159.7,292.38 L160.7,292.57 L161.7,292.67 L162.6,292.76 L163.5,292.84 L164.3,292.91 L165.2,292.96 L166.0,293.01 L167.2,293.06 L168.3,293.09 L169.4,293.10 L170.5,293.10 L171.5,293.10 L172.5,293.10 L173.5,293.10 L174.4,293.10 L175.3,293.10 L176.2,293.10 L177.1,293.10 L177.9,293.10 L178.7,293.10 L179.8,293.10 L180.8,293.10 L181.8,293.10 L182.7,293.10 L183.6,293.10 L184.5,293.10 L185.4,293.10 L186.3,293.10 L187.1,293.10 L187.9,293.10 L188.9,293.10 L189.8,293.10 L190.7,293.10 L191.6,293.10 L192.5,293.10 L193.3,293.10 L194.1,293.10 L195.1,293.10 L196.0,293.10 L196.9,293.10 L197.8,293.10 L198.6,293.10 L199.5,293.10 L200.3,293.10 L201.2,293.10 L202.1,293.10 L202.9,293.10 L203.8,293.10 L204.6,293.10 L205.5,293.10 L206.4,293.10 L207.2,293.10 L208.1,293.10 L208.9,293.10 L209.8,293.10 L210.6,293.10 L211.5,293.10 L212.3,293.10 L213.2,293.10 L214.0,293.10 L214.9,293.10 L215.7,293.10 L216.5,293.10 L217.5,293.10" fill="none" stroke="#e9a52a" stroke-width="1.8" stroke-linejoin="round" stroke-dasharray="4.4 4.4"/>
</g>
<text x="20.20" y="320.40" font-family="Liberation Serif, serif" font-size="13.8" textLength="7.50" lengthAdjust="spacingAndGlyphs">0</text>
<text x="21.50" y="267.40" font-family="Liberation Serif, serif" font-size="13.8" textLength="6.20" lengthAdjust="spacingAndGlyphs">1</text>
<text x="20.90" y="215.00" font-family="Liberation Serif, serif" font-size="13.8" textLength="6.80" lengthAdjust="spacingAndGlyphs">2</text>
<text x="64.97" y="333.00" font-family="Liberation Serif, serif" font-size="14.0" textLength="14.30" lengthAdjust="spacingAndGlyphs">10</text>
<text x="79.47" y="327.70" font-family="Liberation Serif, serif" font-size="11.7" textLength="5.30" lengthAdjust="spacingAndGlyphs">0</text>
<text x="135.69" y="333.00" font-family="Liberation Serif, serif" font-size="14.0" textLength="14.30" lengthAdjust="spacingAndGlyphs">10</text>
<text x="150.19" y="327.70" font-family="Liberation Serif, serif" font-size="11.7" textLength="5.30" lengthAdjust="spacingAndGlyphs">1</text>
<text x="206.40" y="333.00" font-family="Liberation Serif, serif" font-size="14.0" textLength="14.30" lengthAdjust="spacingAndGlyphs">10</text>
<text x="220.90" y="327.70" font-family="Liberation Serif, serif" font-size="11.7" textLength="5.30" lengthAdjust="spacingAndGlyphs">2</text>
<clipPath id="clip1"><rect x="261.9" y="172.9" width="185.2" height="143.0"/></clipPath>
<line x1="305.07" y1="315.5" x2="305.07" y2="310.0" stroke="#b0b0b0" stroke-width="0.9"/>
<line x1="305.07" y1="173.5" x2="305.07" y2="179.0" stroke="#b0b0b0" stroke-width="0.9"/>
<line x1="375.79" y1="315.5" x2="375.79" y2="310.0" stroke="#b0b0b0" stroke-width="0.9"/>
<line x1="375.79" y1="173.5" x2="375.79" y2="179.0" stroke="#b0b0b0" stroke-width="0.9"/>
<line x1="262.5" y1="271.18" x2="268.0" y2="271.18" stroke="#b0b0b0" stroke-width="0.9"/>
<line x1="446.5" y1="271.18" x2="441.0" y2="271.18" stroke="#b0b0b0" stroke-width="0.9"/>
<line x1="262.5" y1="227.46" x2="268.0" y2="227.46" stroke="#b0b0b0" stroke-width="0.9"/>
<line x1="446.5" y1="227.46" x2="441.0" y2="227.46" stroke="#b0b0b0" stroke-width="0.9"/>
<line x1="262.5" y1="183.74" x2="268.0" y2="183.74" stroke="#b0b0b0" stroke-width="0.9"/>
<line x1="446.5" y1="183.74" x2="441.0" y2="183.74" stroke="#b0b0b0" stroke-width="0.9"/>
<rect x="262.5" y="173.5" width="184.0" height="142.0" fill="none" stroke="#4d4d4d" stroke-width="1"/>
<g clip-path="url(#clip1)">
<path d="M262.5,297.92 L283.8,288.91 L296.2,279.97 L305.1,271.03 L311.9,262.69 L317.5,255.94 L322.3,251.37 L326.4,247.40 L330.0,244.02 L333.2,241.73 L336.1,240.03 L338.8,238.67 L341.3,237.57 L343.5,236.67 L345.7,235.91 L347.6,235.22 L349.5,234.61 L351.3,234.08 L352.9,233.65 L354.5,233.31 L356.0,233.07 L357.4,232.91 L358.8,232.78 L360.1,232.65 L361.4,232.54 L362.6,232.44 L363.7,232.36 L364.8,232.28 L365.9,232.22 L367.0,232.18 L368.0,232.14 L368.9,232.12 L369.9,232.10 L370.8,232.10 L371.7,232.10 L372.6,232.10 L373.4,232.10 L374.2,232.10 L375.8,232.10 L377.3,232.10 L378.7,232.10 L380.1,232.10 L381.4,232.10 L382.6,232.10 L383.8,232.10 L385.0,232.10 L386.1,232.10 L387.2,232.10 L388.2,232.10 L389.2,232.10 L390.2,232.10 L391.2,232.10 L392.1,232.10 L393.0,232.10 L393.8,232.10 L394.7,232.10 L395.5,232.10 L396.7,232.10 L397.8,232.10 L398.9,232.11 L400.0,232.11 L401.0,232.11 L402.0,232.11 L403.0,232.11 L403.9,232.11 L404.8,232.11 L405.7,232.11 L406.6,232.11 L407.4,232.11 L408.2,232.11 L409.3,232.11 L410.3,232.11 L411.3,232.12 L412.2,232.12 L413.1,232.12 L414.0,232.12 L414.9,232.12 L415.8,232.12 L416.6,232.12 L417.4,232.12 L418.4,232.12 L419.3,232.13 L420.2,232.13 L421.1,232.13 L422.0,232.13 L422.8,232.13 L423.6,232.13 L424.6,232.14 L425.5,232.14 L426.4,232.14 L427.3,232.14 L428.1,232.14 L429.0,232.15 L429.8,232.15 L430.7,232.15 L431.6,232.15 L432.4,232.15 L433.3,232.16 L434.1,232.16 L435.0,232.16 L435.9,232.16 L436.7,232.17 L437.6,232.17 L438.4,232.17 L439.3,232.17 L440.1,232.18 L441.0,232.18 L441.8,232.18 L442.7,232.19 L443.5,232.19 L444.4,232.19 L445.2,232.19 L446.0,232.20 L446.5,232.20" fill="none" stroke="#1b9e77" stroke-width="1.8" stroke-linejoin="round"/>
<path d="M262.5,235.83 L283.8,223.44 L296.2,218.11 L305.1,215.15 L311.9,214.61 L317.5,215.04 L322.3,215.96 L326.4,217.14 L330.0,218.29 L333.2,219.17 L336.1,220.05 L338.8,221.11 L341.3,222.26 L343.5,223.36 L345.7,224.35 L347.6,225.24 L349.5,226.11 L351.3,226.93 L352.9,227.66 L354.5,228.29 L356.0,228.82 L357.4,229.24 L358.8,229.63 L360.1,229.98 L361.4,230.30 L362.6,230.59 L363.7,230.83 L364.8,231.03 L365.9,231.18 L367.0,231.30 L368.0,231.38 L368.9,231.46 L369.9,231.54 L370.8,231.61 L371.7,231.67 L372.6,231.73 L373.4,231.78" fill="none" stroke="#1b9e77" stroke-width="1.8" stroke-linejoin="round" stroke-dasharray="4.4 4.4"/>
<path d="M262.5,284.64 L283.8,275.41 L296.2,268.98 L305.1,263.42 L311.9,259.04 L317.5,256.37 L322.3,254.57 L326.4,253.20 L330.0,252.13 L333.2,251.34 L336.1,250.82 L338.8,250.41 L341.3,250.07 L343.5,249.79 L345.7,249.59 L347.6,249.46 L349.5,249.40 L351.3,249.38 L352.9,249.36 L354.5,249.35 L356.0,249.34 L357.4,249.33 L358.8,249.32 L360.1,249.31 L361.4,249.31 L362.6,249.30 L363.7,249.30 L364.8,249.30 L365.9,249.30 L367.0,249.30 L368.0,249.30 L368.9,249.30 L369.9,249.30 L370.8,249.30 L371.7,249.30 L372.6,249.30 L373.4,249.30 L374.2,249.30 L375.8,249.30 L377.3,249.30 L378.7,249.30 L380.1,249.30 L381.4,249.30 L382.6,249.30 L383.8,249.30 L385.0,249.30 L386.1,249.30 L387.2,249.30 L388.2,249.30 L389.2,249.30 L390.2,249.30 L391.2,249.30 L392.1,249.30 L393.0,249.30 L393.8,249.30 L394.7,249.30 L395.5,249.30 L396.7,249.30 L397.8,249.30 L398.9,249.30 L400.0,249.30 L401.0,249.30 L402.0,249.30 L403.0,249.30 L403.9,249.30 L404.8,249.30 L405.7,249.30 L406.6,249.30 L407.4,249.30 L408.2,249.30 L409.3,249.30 L410.3,249.30 L411.3,249.30 L412.2,249.30 L413.1,249.30 L414.0,249.30 L414.9,249.30 L415.8,249.30 L416.6,249.30 L417.4,249.30 L418.4,249.30 L419.3,249.30 L420.2,249.30 L421.1,249.30 L422.0,249.30 L422.8,249.30 L423.6,249.30 L424.6,249.30 L425.5,249.30 L426.4,249.30 L427.3,249.30 L428.1,249.30 L429.0,249.30 L429.8,249.30 L430.7,249.30 L431.6,249.30 L432.4,249.30 L433.3,249.30 L434.1,249.30 L435.0,249.30 L435.9,249.30 L436.7,249.30 L437.6,249.30 L438.4,249.30 L439.3,249.30 L440.1,249.30 L441.0,249.30 L441.8,249.30 L442.7,249.30 L443.5,249.30 L444.4,249.30 L445.2,249.30 L446.0,249.30 L446.5,249.30" fill="none" stroke="#dc6210" stroke-width="1.8" stroke-linejoin="round"/>
<path d="M262.5,246.30 L283.8,233.33 L296.2,229.59 L305.1,229.83 L311.9,233.24 L317.5,236.86 L322.3,239.31 L326.4,241.59 L330.0,243.55 L333.2,245.04 L336.1,246.11 L338.8,246.95 L341.3,247.56 L343.5,247.95 L345.7,248.26 L347.6,248.52 L349.5,248.72 L351.3,248.84 L352.9,248.90 L354.5,248.92 L356.0,248.93 L357.4,248.95 L358.8,248.96 L360.1,248.97" fill="none" stroke="#dc6210" stroke-width="1.8" stroke-linejoin="round" stroke-dasharray="4.4 4.4"/>
<path d="M262.5,269.94 L283.8,258.41 L296.2,248.81 L305.1,242.08 L311.9,237.73 L317.5,235.39 L322.3,234.72 L326.4,234.64 L330.0,234.99 L333.2,235.36 L336.1,235.50 L338.8,235.49 L341.3,235.46 L343.5,235.42 L345.7,235.38 L347.6,235.33 L349.5,235.29 L351.3,235.24 L352.9,235.20 L354.5,235.16 L356.0,235.10 L357.4,235.04 L358.8,234.98 L360.1,234.92 L361.4,234.86 L362.6,234.80 L363.7,234.74 L364.8,234.69 L365.9,234.64 L367.0,234.60 L368.0,234.56 L368.9,234.52 L369.9,234.48 L370.8,234.44 L371.7,234.40 L372.6,234.37 L373.4,234.33 L374.2,234.30 L375.8,234.24 L377.3,234.19 L378.7,234.15 L380.1,234.12 L381.4,234.10 L382.6,234.10 L383.8,234.09 L385.0,234.09 L386.1,234.09 L387.2,234.08 L388.2,234.08 L389.2,234.08 L390.2,234.07 L391.2,234.07 L392.1,234.07 L393.0,234.06 L393.8,234.06 L394.7,234.06 L395.5,234.06 L396.7,234.05 L397.8,234.05 L398.9,234.05 L400.0,234.05 L401.0,234.04 L402.0,234.04 L403.0,234.04 L403.9,234.04 L404.8,234.04 L405.7,234.03 L406.6,234.03 L407.4,234.03 L408.2,234.03 L409.3,234.03 L410.3,234.03 L411.3,234.03 L412.2,234.02 L413.1,234.02 L414.0,234.02 L414.9,234.02 L415.8,234.02 L416.6,234.02 L417.4,234.02 L418.4,234.02 L419.3,234.01 L420.2,234.01 L421.1,234.01 L422.0,234.01 L422.8,234.01 L423.6,234.01 L424.6,234.01 L425.5,234.01 L426.4,234.01 L427.3,234.01 L428.1,234.01 L429.0,234.01 L429.8,234.00 L430.7,234.00 L431.6,234.00 L432.4,234.00 L433.3,234.00 L434.1,234.00 L435.0,234.00 L435.9,234.00 L436.7,234.00 L437.6,234.00 L438.4,234.00 L439.3,234.00 L440.1,234.00 L441.0,234.00 L441.8,234.00 L442.7,234.00 L443.5,234.00 L444.4,234.00 L445.2,234.00 L446.0,234.00 L446.5,234.00" fill="none" stroke="#7570b3" stroke-width="1.8" stroke-linejoin="round"/>
<path d="M262.5,262.73 L283.8,257.32 L296.2,255.70 L305.1,254.89 L311.9,253.86 L317.5,252.74 L322.3,251.51 L326.4,250.09 L330.0,248.64 L333.2,247.27 L336.1,245.84 L338.8,244.42 L341.3,243.11 L343.5,241.94 L345.7,240.95 L347.6,240.07 L349.5,239.21 L351.3,238.40 L352.9,237.66 L354.5,237.02 L356.0,236.47 L357.4,236.04 L358.8,235.71 L360.1,235.49 L361.4,235.32 L362.6,235.17 L363.7,235.02" fill="none" stroke="#7570b3" stroke-width="1.8" stroke-linejoin="round" stroke-dasharray="4.4 4.4"/>
<path d="M262.5,261.84 L283.8,254.21 L296.2,250.52 L305.1,249.51 L311.9,248.95 L317.5,248.42 L322.3,247.98 L326.4,247.47 L330.0,246.73 L333.2,245.76 L336.1,244.73 L338.8,243.66 L341.3,242.40 L343.5,241.14 L345.7,240.06 L347.6,239.14 L349.5,238.27 L351.3,237.47 L352.9,236.76 L354.5,236.16 L356.0,235.67 L357.4,235.28 L358.8,234.92 L360.1,234.60 L361.4,234.31 L362.6,234.05 L363.7,233.84 L364.8,233.66 L365.9,233.51 L367.0,233.40 L368.0,233.32 L368.9,233.24 L369.9,233.16 L370.8,233.10 L371.7,233.03 L372.6,232.98 L373.4,232.92 L374.2,232.88 L375.8,232.79 L377.3,232.73 L378.7,232.68 L380.1,232.64 L381.4,232.61 L382.6,232.59 L383.8,232.58 L385.0,232.56 L386.1,232.55 L387.2,232.53 L388.2,232.52 L389.2,232.51 L390.2,232.50 L391.2,232.49 L392.1,232.48 L393.0,232.47 L393.8,232.46 L394.7,232.45 L395.5,232.44 L396.7,232.43 L397.8,232.42 L398.9,232.41 L400.0,232.40 L401.0,232.39 L402.0,232.38 L403.0,232.37 L403.9,232.37 L404.8,232.36 L405.7,232.35 L406.6,232.34 L407.4,232.34 L408.2,232.33 L409.3,232.32 L410.3,232.32 L411.3,232.31 L412.2,232.30 L413.1,232.30 L414.0,232.29 L414.9,232.29 L415.8,232.28 L416.6,232.28 L417.4,232.27 L418.4,232.27 L419.3,232.26 L420.2,232.26 L421.1,232.26 L422.0,232.25 L422.8,232.25 L423.6,232.25 L424.6,232.24 L425.5,232.24 L426.4,232.23 L427.3,232.23 L428.1,232.23 L429.0,232.23 L429.8,232.22 L430.7,232.22 L431.6,232.22 L432.4,232.22 L433.3,232.21 L434.1,232.21 L435.0,232.21 L435.9,232.21 L436.7,232.21 L437.6,232.21 L438.4,232.21 L439.3,232.20 L440.1,232.20 L441.0,232.20 L441.8,232.20 L442.7,232.20 L443.5,232.20 L444.4,232.20 L445.2,232.20 L446.0,232.20 L446.3,232.20" fill="none" stroke="#e7298a" stroke-width="1.8" stroke-linejoin="round"/>
<path d="M262.5,268.06 L283.8,252.70 L296.2,240.38 L305.1,232.72 L311.9,225.65 L317.5,223.90 L322.3,223.36 L326.4,223.16 L330.0,223.10 L333.2,223.58 L336.1,224.33 L338.8,225.04 L341.3,225.73 L343.5,226.39 L345.7,227.04 L347.6,227.63 L349.5,228.16 L351.3,228.61 L352.9,228.98 L354.5,229.30 L356.0,229.60 L357.4,229.88 L358.8,230.13 L360.1,230.36 L361.4,230.56 L362.6,230.74 L363.7,230.89 L364.8,231.02 L365.9,231.12 L367.0,231.20 L368.0,231.26 L368.9,231.32 L369.9,231.37 L370.8,231.42 L371.7,231.47 L372.6,231.51 L373.4,231.55 L374.2,231.58 L375.8,231.65 L377.3,231.70 L378.7,231.74 L380.1,231.77 L381.4,231.79 L382.6,231.81 L383.8,231.82 L385.0,231.84 L386.1,231.85 L387.2,231.86 L388.2,231.87 L389.2,231.89 L390.2,231.90 L391.2,231.91 L392.1,231.92 L393.0,231.93 L393.8,231.94 L394.7,231.94 L395.5,231.95 L396.7,231.96 L397.8,231.97 L398.9,231.98 L400.0,231.99 L401.0,232.00 L402.0,232.01 L403.0,232.02 L403.3,232.02" fill="none" stroke="#e7298a" stroke-width="1.8" stroke-linejoin="round" stroke-dasharray="4.4 4.4"/>
<path d="M262.5,258.99 L283.8,261.30 L296.2,267.72 L305.1,273.78 L311.9,279.25 L317.5,282.70 L322.3,286.17 L326.4,289.55 L330.0,292.39 L333.2,294.84 L336.1,296.93 L338.8,298.76 L341.3,300.36 L343.5,301.79 L345.7,303.07 L347.6,304.18 L349.5,305.17 L351.3,306.06 L352.9,306.85 L354.5,307.56 L356.0,308.19 L357.4,308.76 L358.8,309.27 L360.1,309.75 L361.4,310.18 L362.6,310.59 L363.7,310.96 L364.8,311.30 L365.9,311.62 L367.0,311.91 L368.0,312.17 L368.9,312.42 L369.9,312.65 L370.8,312.86 L371.7,313.05 L372.6,313.22 L373.4,313.37 L374.2,313.49 L375.8,313.72 L377.3,313.91 L378.7,314.07 L380.1,314.20 L381.4,314.32 L382.6,314.42 L383.8,314.51 L385.0,314.60 L386.1,314.69 L387.2,314.79 L388.2,314.89 L389.2,314.98 L390.2,315.06 L391.2,315.14 L392.1,315.20 L393.0,315.25 L393.8,315.28 L394.7,315.30 L395.5,315.30 L396.7,315.30 L397.8,315.30 L398.9,315.30 L400.0,315.30 L401.0,315.30 L402.0,315.30 L403.0,315.30 L403.9,315.30 L404.8,315.30 L405.7,315.30 L406.6,315.30 L407.4,315.30 L408.2,315.30 L409.3,315.30 L410.3,315.30 L411.3,315.30 L412.2,315.30 L413.1,315.30 L414.0,315.30 L414.9,315.30 L415.8,315.30 L416.6,315.30 L417.4,315.30 L418.4,315.30 L419.3,315.30 L420.2,315.30 L421.1,315.30 L422.0,315.30 L422.8,315.30 L423.6,315.30 L424.6,315.30 L425.5,315.30 L426.4,315.30 L427.3,315.30 L428.1,315.30 L429.0,315.30 L429.8,315.30 L430.7,315.30 L431.6,315.30 L432.4,315.30 L433.3,315.30 L434.1,315.30 L435.0,315.30 L435.9,315.30 L436.7,315.30 L437.6,315.30 L438.4,315.30 L439.3,315.30 L440.1,315.30 L441.0,315.30 L441.8,315.30 L442.7,315.30 L443.5,315.30 L444.4,315.30 L445.2,315.30 L446.0,315.30 L446.5,315.30" fill="none" stroke="#66a61e" stroke-width="1.8" stroke-linejoin="round"/>
<path d="M262.5,288.33 L283.8,286.50 L296.2,287.92 L305.1,290.83 L311.9,293.95 L317.5,297.08 L322.3,299.90 L326.4,302.33 L330.0,304.56 L333.2,306.38 L336.1,307.72 L338.8,308.78 L341.3,309.68 L343.5,310.43 L345.7,311.06 L347.6,311.57 L349.5,311.98 L351.3,312.32 L352.9,312.62 L354.5,312.88 L356.0,313.12 L357.4,313.32 L358.8,313.50 L360.1,313.66 L361.4,313.79 L362.6,313.91 L363.7,314.01 L364.8,314.10 L365.9,314.19 L367.0,314.27 L368.0,314.34 L368.9,314.40 L369.9,314.46 L370.8,314.51 L371.7,314.55 L372.6,314.57 L373.4,314.59 L374.2,314.60 L375.8,314.61 L377.3,314.62 L378.7,314.63 L380.1,314.64 L381.4,314.65 L382.6,314.65 L383.8,314.66 L385.0,314.67 L386.1,314.67 L387.2,314.68 L388.2,314.68 L389.2,314.69 L390.2,314.69 L391.2,314.70 L392.1,314.70 L393.0,314.70 L393.8,314.71 L394.7,314.71 L395.5,314.71 L396.7,314.72 L397.8,314.72 L398.9,314.73 L400.0,314.73 L401.0,314.74 L402.0,314.74 L403.0,314.74 L403.9,314.74 L404.8,314.75 L405.7,314.75 L406.6,314.75 L407.4,314.75 L408.2,314.76 L409.3,314.76 L410.3,314.76 L411.3,314.76 L412.2,314.77 L413.1,314.77 L414.0,314.77 L414.9,314.77 L415.8,314.77 L416.6,314.78 L417.4,314.78 L418.4,314.78 L419.3,314.78 L420.2,314.78 L421.1,314.78 L422.0,314.78 L422.8,314.79 L423.6,314.79 L424.6,314.79 L425.5,314.79 L426.4,314.79 L427.3,314.79 L428.1,314.79 L429.0,314.79 L429.8,314.79 L430.7,314.79 L431.6,314.79 L432.4,314.80 L433.3,314.80 L434.1,314.80 L435.0,314.80 L435.9,314.80 L436.7,314.80 L437.6,314.80 L438.4,314.80 L439.3,314.80 L440.1,314.80 L441.0,314.80 L441.8,314.80 L442.7,314.80 L443.5,314.80 L444.4,314.80 L445.2,314.80 L446.0,314.80 L446.3,314.80" fill="none" stroke="#66a61e" stroke-width="1.8" stroke-linejoin="round" stroke-dasharray="4.4 4.4"/>
<path d="M262.5,228.68 L283.8,209.30 L296.2,197.09 L305.1,190.30 L311.9,187.49 L317.5,186.80 L322.3,186.60 L326.4,186.84 L330.0,187.27 L333.2,187.71 L336.1,188.06 L338.8,188.39 L341.3,188.73 L343.5,189.03 L345.7,189.28 L347.6,189.47 L349.5,189.60 L351.3,189.68 L352.9,189.75 L354.5,189.82 L356.0,189.87 L357.4,189.92 L358.8,189.97 L360.1,190.00 L361.4,190.03 L362.6,190.06 L363.7,190.08 L364.8,190.09 L365.9,190.10 L367.0,190.10 L368.0,190.10 L368.9,190.10 L369.9,190.10 L370.8,190.10 L371.7,190.10 L372.6,190.10 L373.4,190.10 L374.2,190.10 L375.8,190.10 L377.3,190.10 L378.7,190.10 L380.1,190.10 L381.4,190.10 L382.6,190.10 L383.8,190.10 L385.0,190.10 L386.1,190.10 L387.2,190.10 L388.2,190.10 L389.2,190.10 L390.2,190.10 L391.2,190.10 L392.1,190.10 L393.0,190.10 L393.8,190.10 L394.7,190.10 L395.5,190.10 L396.7,190.10 L397.8,190.10 L398.9,190.10 L400.0,190.10 L401.0,190.10 L402.0,190.10 L403.0,190.10 L403.9,190.10 L404.8,190.10 L405.7,190.10 L406.6,190.10 L407.4,190.10 L408.2,190.10 L409.3,190.10 L410.3,190.10 L411.3,190.10 L412.2,190.10 L413.1,190.10 L414.0,190.10 L414.9,190.10 L415.8,190.10 L416.6,190.10 L417.4,190.10 L418.4,190.10 L419.3,190.10 L420.2,190.10 L421.1,190.10 L422.0,190.10 L422.8,190.10 L423.6,190.10 L424.6,190.10 L425.5,190.10 L426.4,190.10 L427.3,190.10 L428.1,190.10 L429.0,190.10 L429.8,190.10 L430.7,190.10 L431.6,190.10 L432.4,190.10 L433.3,190.10 L434.1,190.10 L435.0,190.10 L435.9,190.10 L436.7,190.10 L437.6,190.10 L438.4,190.10 L439.3,190.10 L440.1,190.10 L441.0,190.10 L441.8,190.10 L442.7,190.10 L443.5,190.10 L444.4,190.10 L445.2,190.10 L446.0,190.10 L446.5,190.10" fill="none" stroke="#e9a52a" stroke-width="1.8" stroke-linejoin="round"/>
<path d="M262.5,295.57 L283.8,279.91 L296.2,259.38 L305.1,240.13 L311.9,221.26 L317.5,209.20 L322.3,203.04 L326.4,199.50 L330.0,197.16 L333.2,195.66 L336.1,194.60 L338.8,193.81 L341.3,193.19 L343.5,192.67 L345.7,192.24 L347.6,191.89 L349.5,191.61 L351.3,191.39 L352.9,191.20 L354.5,191.03 L356.0,190.89 L357.4,190.77 L358.8,190.67 L360.1,190.59 L361.4,190.52 L362.6,190.46 L363.7,190.40" fill="none" stroke="#e9a52a" stroke-width="1.8" stroke-linejoin="round" stroke-dasharray="4.4 4.4"/>
</g>
<text x="249.70" y="320.20" font-family="Liberation Serif, serif" font-size="13.8" textLength="7.50" lengthAdjust="spacingAndGlyphs">0</text>
<text x="238.10" y="275.88" font-family="Liberation Serif, serif" font-size="13.8" textLength="19.10" lengthAdjust="spacingAndGlyphs">0.2</text>
<text x="238.10" y="232.16" font-family="Liberation Serif, serif" font-size="13.8" textLength="19.10" lengthAdjust="spacingAndGlyphs">0.4</text>
<text x="238.10" y="188.44" font-family="Liberation Serif, serif" font-size="13.8" textLength="19.10" lengthAdjust="spacingAndGlyphs">0.6</text>
<text x="294.47" y="333.00" font-family="Liberation Serif, serif" font-size="14.0" textLength="14.30" lengthAdjust="spacingAndGlyphs">10</text>
<text x="308.97" y="327.70" font-family="Liberation Serif, serif" font-size="11.7" textLength="5.30" lengthAdjust="spacingAndGlyphs">0</text>
<text x="365.19" y="333.00" font-family="Liberation Serif, serif" font-size="14.0" textLength="14.30" lengthAdjust="spacingAndGlyphs">10</text>
<text x="379.69" y="327.70" font-family="Liberation Serif, serif" font-size="11.7" textLength="5.30" lengthAdjust="spacingAndGlyphs">1</text>
<text x="435.90" y="333.00" font-family="Liberation Serif, serif" font-size="14.0" textLength="14.30" lengthAdjust="spacingAndGlyphs">10</text>
<text x="450.40" y="327.70" font-family="Liberation Serif, serif" font-size="11.7" textLength="5.30" lengthAdjust="spacingAndGlyphs">2</text>
<clipPath id="clip2"><rect x="490.9" y="172.9" width="185.2" height="143.0"/></clipPath>
<line x1="534.07" y1="315.5" x2="534.07" y2="310.0" stroke="#b0b0b0" stroke-width="0.9"/>
<line x1="534.07" y1="173.5" x2="534.07" y2="179.0" stroke="#b0b0b0" stroke-width="0.9"/>
<line x1="604.79" y1="315.5" x2="604.79" y2="310.0" stroke="#b0b0b0" stroke-width="0.9"/>
<line x1="604.79" y1="173.5" x2="604.79" y2="179.0" stroke="#b0b0b0" stroke-width="0.9"/>
<line x1="491.5" y1="259.80" x2="497.0" y2="259.80" stroke="#b0b0b0" stroke-width="0.9"/>
<line x1="675.5" y1="259.80" x2="670.0" y2="259.80" stroke="#b0b0b0" stroke-width="0.9"/>
<line x1="491.5" y1="204.50" x2="497.0" y2="204.50" stroke="#b0b0b0" stroke-width="0.9"/>
<line x1="675.5" y1="204.50" x2="670.0" y2="204.50" stroke="#b0b0b0" stroke-width="0.9"/>
<rect x="491.5" y="173.5" width="184.0" height="142.0" fill="none" stroke="#4d4d4d" stroke-width="1"/>
<g clip-path="url(#clip2)">
<path d="M491.5,293.50 L512.8,283.63 L525.2,272.65 L534.1,261.15 L540.9,253.29 L546.5,245.22 L551.3,238.15 L555.4,233.42 L559.0,230.04 L562.2,227.89 L565.1,226.30 L567.8,225.21 L570.3,224.50 L572.5,223.95 L574.7,223.51 L576.6,223.16 L578.5,222.90 L580.3,222.72 L581.9,222.59 L583.5,222.47 L585.0,222.37 L586.4,222.29 L587.8,222.24 L589.1,222.21 L590.4,222.20 L591.6,222.20 L592.7,222.20 L593.8,222.20 L594.9,222.20 L596.0,222.20 L597.0,222.20 L597.9,222.20 L598.9,222.20 L599.8,222.20 L600.7,222.20 L601.6,222.20 L602.4,222.20 L603.2,222.20 L604.8,222.20 L606.3,222.20 L607.7,222.20 L609.1,222.20 L610.4,222.20 L611.6,222.20 L612.8,222.20 L614.0,222.20 L615.1,222.20 L616.2,222.20 L617.2,222.20 L618.2,222.20 L619.2,222.20 L620.2,222.20 L621.1,222.20 L622.0,222.20 L622.8,222.20 L623.7,222.20 L624.5,222.20 L625.7,222.20 L626.8,222.20 L627.9,222.20 L629.0,222.20 L630.0,222.20 L631.0,222.20 L632.0,222.20 L632.9,222.20 L633.8,222.20 L634.7,222.20 L635.6,222.20 L636.4,222.20 L637.2,222.20 L638.3,222.20 L639.3,222.20 L640.3,222.20 L641.2,222.20 L642.1,222.20 L643.0,222.20 L643.9,222.20 L644.8,222.20 L645.6,222.20 L646.4,222.20 L647.4,222.20 L648.3,222.20 L649.2,222.20 L650.1,222.20 L651.0,222.20 L651.8,222.20 L652.6,222.20 L653.6,222.20 L654.5,222.20 L655.4,222.20 L656.3,222.20 L657.1,222.20 L658.0,222.20 L658.8,222.20 L659.7,222.20 L660.6,222.20 L661.4,222.20 L662.3,222.20 L663.1,222.20 L664.0,222.20 L664.9,222.20 L665.7,222.20 L666.6,222.20 L667.4,222.20 L668.3,222.20 L669.1,222.20 L670.0,222.20 L670.8,222.20 L671.7,222.20 L672.5,222.20 L673.4,222.20 L674.2,222.20 L675.0,222.20 L675.6,222.20" fill="none" stroke="#1b9e77" stroke-width="1.8" stroke-linejoin="round"/>
<path d="M491.5,223.10 L512.8,215.98 L525.2,212.64 L534.1,211.62 L540.9,211.90 L546.5,212.55 L551.3,213.68 L555.4,214.90 L559.0,216.00 L562.2,217.08 L565.1,218.03 L567.8,218.81 L570.3,219.52 L572.5,220.16 L574.7,220.68 L576.6,221.06 L578.5,221.31 L580.3,221.52 L581.9,221.71 L583.5,221.86 L585.0,221.99 L586.4,222.09" fill="none" stroke="#1b9e77" stroke-width="1.8" stroke-linejoin="round" stroke-dasharray="4.4 4.4"/>
<path d="M491.5,277.80 L512.8,266.81 L525.2,258.87 L534.1,252.42 L540.9,247.94 L546.5,244.69 L551.3,242.30 L555.4,240.85 L559.0,239.88 L562.2,239.18 L565.1,238.70 L567.8,238.36 L570.3,238.07 L572.5,237.85 L574.7,237.69 L576.6,237.61 L578.5,237.60 L580.3,237.60 L581.9,237.60 L583.5,237.60 L585.0,237.60 L586.4,237.60 L587.8,237.60 L589.1,237.60 L590.4,237.60 L591.6,237.60 L592.7,237.60 L593.8,237.60 L594.9,237.60 L596.0,237.60 L597.0,237.60 L597.9,237.60 L598.9,237.60 L599.8,237.60 L600.7,237.60 L601.6,237.60 L602.4,237.60 L603.2,237.60 L604.8,237.60 L606.3,237.61 L607.7,237.61 L609.1,237.61 L610.4,237.61 L611.6,237.61 L612.8,237.61 L614.0,237.61 L615.1,237.61 L616.2,237.61 L617.2,237.61 L618.2,237.61 L619.2,237.62 L620.2,237.62 L621.1,237.62 L622.0,237.62 L622.8,237.62 L623.7,237.62 L624.5,237.62 L625.7,237.62 L626.8,237.63 L627.9,237.63 L629.0,237.63 L630.0,237.63 L631.0,237.63 L632.0,237.63 L632.9,237.64 L633.8,237.64 L634.7,237.64 L635.6,237.64 L636.4,237.64 L637.2,237.65 L638.3,237.65 L639.3,237.65 L640.3,237.65 L641.2,237.65 L642.1,237.66 L643.0,237.66 L643.9,237.66 L644.8,237.66 L645.6,237.67 L646.4,237.67 L647.4,237.67 L648.3,237.68 L649.2,237.68 L650.1,237.68 L651.0,237.68 L651.8,237.69 L652.6,237.69 L653.6,237.69 L654.5,237.70 L655.4,237.70 L656.3,237.70 L657.1,237.71 L658.0,237.71 L658.8,237.71 L659.7,237.72 L660.6,237.72 L661.4,237.73 L662.3,237.73 L663.1,237.73 L664.0,237.74 L664.9,237.74 L665.7,237.75 L666.6,237.75 L667.4,237.75 L668.3,237.76 L669.1,237.76 L670.0,237.77 L670.8,237.77 L671.7,237.78 L672.5,237.78 L673.4,237.79 L674.2,237.79 L675.0,237.80 L675.6,237.80" fill="none" stroke="#dc6210" stroke-width="1.8" stroke-linejoin="round"/>
<path d="M491.5,234.20 L512.8,225.26 L525.2,222.50 L534.1,223.87 L540.9,226.92 L546.5,229.48 L551.3,231.48 L555.4,233.02 L559.0,234.15 L562.2,234.85 L565.1,235.36 L567.8,235.76 L570.3,236.10 L572.5,236.40 L574.7,236.72 L576.6,237.00 L578.5,237.20 L580.3,237.30" fill="none" stroke="#dc6210" stroke-width="1.8" stroke-linejoin="round" stroke-dasharray="4.4 4.4"/>
<path d="M491.5,260.80 L512.8,250.01 L525.2,240.97 L534.1,235.52 L540.9,232.15 L546.5,231.09 L551.3,231.15 L555.4,231.67 L559.0,232.14 L562.2,232.68 L565.1,233.14 L567.8,233.38 L570.3,233.39 L572.5,233.34 L574.7,233.27 L576.6,233.18 L578.5,233.09 L580.3,233.01 L581.9,232.92 L583.5,232.82 L585.0,232.70 L586.4,232.58 L587.8,232.45 L589.1,232.32 L590.4,232.20 L591.6,232.08 L592.7,231.97 L593.8,231.87 L594.9,231.77 L596.0,231.69 L597.0,231.62 L597.9,231.55 L598.9,231.50 L599.8,231.46 L600.7,231.43 L601.6,231.41 L602.4,231.40 L603.2,231.39 L604.8,231.37 L606.3,231.35 L607.7,231.33 L609.1,231.32 L610.4,231.31 L611.6,231.29 L612.8,231.28 L614.0,231.27 L615.1,231.26 L616.2,231.25 L617.2,231.24 L618.2,231.23 L619.2,231.22 L620.2,231.21 L621.1,231.21 L622.0,231.20 L622.8,231.19 L623.7,231.19 L624.5,231.18 L625.7,231.17 L626.8,231.16 L627.9,231.16 L629.0,231.15 L630.0,231.14 L631.0,231.13 L632.0,231.13 L632.9,231.12 L633.8,231.12 L634.7,231.11 L635.6,231.11 L636.4,231.10 L637.2,231.10 L638.3,231.09 L639.3,231.09 L640.3,231.08 L641.2,231.08 L642.1,231.07 L643.0,231.07 L643.9,231.07 L644.8,231.06 L645.6,231.06 L646.4,231.05 L647.4,231.05 L648.3,231.05 L649.2,231.04 L650.1,231.04 L651.0,231.04 L651.8,231.04 L652.6,231.03 L653.6,231.03 L654.5,231.03 L655.4,231.03 L656.3,231.02 L657.1,231.02 L658.0,231.02 L658.8,231.02 L659.7,231.02 L660.6,231.01 L661.4,231.01 L662.3,231.01 L663.1,231.01 L664.0,231.01 L664.9,231.01 L665.7,231.01 L666.6,231.00 L667.4,231.00 L668.3,231.00 L669.1,231.00 L670.0,231.00 L670.8,231.00 L671.7,231.00 L672.5,231.00 L673.4,231.00 L674.2,231.00 L675.0,231.00 L675.6,231.00" fill="none" stroke="#7570b3" stroke-width="1.8" stroke-linejoin="round"/>
<path d="M491.5,253.20 L512.8,248.13 L525.2,245.74 L534.1,244.69 L540.9,243.88 L546.5,242.99 L551.3,241.66 L555.4,240.31 L559.0,239.05 L562.2,237.84 L565.1,236.83 L567.8,236.04 L570.3,235.34 L572.5,234.79 L574.7,234.40 L576.6,234.15 L578.5,233.96 L580.3,233.80 L581.9,233.66 L583.5,233.54 L585.0,233.43 L586.4,233.32 L587.8,233.21 L589.1,233.09 L590.4,232.96 L591.6,232.82 L592.7,232.66 L593.8,232.50 L594.9,232.33 L596.0,232.18 L597.0,232.04 L597.9,231.91 L598.9,231.81" fill="none" stroke="#7570b3" stroke-width="1.8" stroke-linejoin="round" stroke-dasharray="4.4 4.4"/>
<path d="M491.5,250.80 L512.8,244.50 L525.2,240.99 L534.1,239.50 L540.9,238.81 L546.5,237.35 L551.3,236.07 L555.4,235.04 L559.0,234.03 L562.2,232.86 L565.1,231.51 L567.8,230.22 L570.3,229.15 L572.5,228.36 L574.7,227.69 L576.6,227.11 L578.5,226.60 L580.3,226.18 L581.9,225.84 L583.5,225.59 L585.0,225.39 L586.4,225.22 L587.8,225.09 L589.1,224.97 L590.4,224.87 L591.6,224.77 L592.7,224.68 L593.8,224.59 L594.9,224.51 L596.0,224.44 L597.0,224.39 L597.9,224.34 L598.9,224.32 L599.8,224.30 L600.7,224.30 L601.6,224.29 L602.4,224.29 L603.2,224.29 L604.8,224.28 L606.3,224.28 L607.7,224.28 L609.1,224.27 L610.4,224.27 L611.6,224.27 L612.8,224.26 L614.0,224.26 L615.1,224.26 L616.2,224.25 L617.2,224.25 L618.2,224.25 L619.2,224.25 L620.2,224.25 L621.1,224.24 L622.0,224.24 L622.8,224.24 L623.7,224.24 L624.5,224.24 L625.7,224.23 L626.8,224.23 L627.9,224.23 L629.0,224.23 L630.0,224.23 L631.0,224.23 L632.0,224.22 L632.9,224.22 L633.8,224.22 L634.7,224.22 L635.6,224.22 L636.4,224.22 L637.2,224.22 L638.3,224.22 L639.3,224.22 L640.3,224.21 L641.2,224.21 L642.1,224.21 L643.0,224.21 L643.9,224.21 L644.8,224.21 L645.6,224.21 L646.4,224.21 L647.4,224.21 L648.3,224.21 L649.2,224.21 L650.1,224.21 L651.0,224.21 L651.8,224.21 L652.6,224.21 L653.6,224.20 L654.5,224.20 L655.4,224.20 L656.3,224.20 L657.1,224.20 L658.0,224.20 L658.8,224.20 L659.7,224.20 L660.6,224.20 L661.4,224.20 L662.3,224.20 L663.1,224.20 L664.0,224.20 L664.9,224.20 L665.7,224.20 L666.6,224.20 L667.4,224.20 L668.3,224.20 L669.1,224.20 L670.0,224.20 L670.8,224.20 L671.7,224.20 L672.5,224.20 L673.4,224.20 L674.2,224.20 L675.0,224.20 L675.6,224.20" fill="none" stroke="#e7298a" stroke-width="1.8" stroke-linejoin="round"/>
<path d="M491.5,258.80 L512.8,244.01 L525.2,234.03 L534.1,227.35 L540.9,223.86 L546.5,222.84 L551.3,222.49 L555.4,222.30 L559.0,222.41 L562.2,222.66 L565.1,222.92 L567.8,223.13 L570.3,223.32 L572.5,223.49 L574.7,223.65 L576.6,223.76 L578.5,223.83 L580.3,223.89 L581.9,223.95 L583.5,223.99 L585.0,224.03 L586.4,224.06 L587.8,224.08 L589.1,224.10 L590.4,224.10 L591.6,224.10 L592.7,224.11 L593.8,224.11 L594.9,224.11 L596.0,224.12" fill="none" stroke="#e7298a" stroke-width="1.8" stroke-linejoin="round" stroke-dasharray="4.4 4.4"/>
<path d="M491.5,248.50 L512.8,252.50 L525.2,258.92 L534.1,263.88 L540.9,269.14 L546.5,273.34 L551.3,276.94 L555.4,280.07 L559.0,282.78 L562.2,285.11 L565.1,287.08 L567.8,288.78 L570.3,290.25 L572.5,291.54 L574.7,292.70 L576.6,293.75 L578.5,294.72 L580.3,295.60 L581.9,296.40 L583.5,297.09 L585.0,297.73 L586.4,298.31 L587.8,298.83 L589.1,299.30 L590.4,299.72 L591.6,300.11 L592.7,300.47 L593.8,300.81 L594.9,301.10 L596.0,301.37 L597.0,301.59 L597.9,301.79 L598.9,301.97 L599.8,302.13 L600.7,302.27 L601.6,302.41 L602.4,302.53 L603.2,302.65 L604.8,302.87 L606.3,303.07 L607.7,303.27 L609.1,303.44 L610.4,303.59 L611.6,303.71 L612.8,303.81 L614.0,303.89 L615.1,303.97 L616.2,304.04 L617.2,304.10 L618.2,304.16 L619.2,304.21 L620.2,304.26 L621.1,304.31 L622.0,304.35 L622.8,304.38 L623.7,304.41 L624.5,304.44 L625.7,304.48 L626.8,304.51 L627.9,304.53 L629.0,304.55 L630.0,304.58 L631.0,304.60 L632.0,304.62 L632.9,304.63 L633.8,304.65 L634.7,304.66 L635.6,304.67 L636.4,304.68 L637.2,304.69 L638.3,304.70 L639.3,304.70 L640.3,304.70 L641.2,304.70 L642.1,304.70 L643.0,304.70 L643.9,304.70 L644.8,304.70 L645.6,304.70 L646.4,304.70 L647.4,304.70 L648.3,304.70 L649.2,304.70 L650.1,304.70 L651.0,304.70 L651.8,304.70 L652.6,304.70 L653.6,304.70 L654.5,304.70 L655.4,304.70 L656.3,304.70 L657.1,304.70 L658.0,304.70 L658.8,304.70 L659.7,304.70 L660.6,304.70 L661.4,304.70 L662.3,304.70 L663.1,304.70 L664.0,304.70 L664.9,304.70 L665.7,304.70 L666.6,304.70 L667.4,304.70 L668.3,304.70 L669.1,304.70 L670.0,304.70 L670.8,304.70 L671.7,304.70 L672.5,304.70 L673.4,304.70 L674.2,304.70 L675.0,304.70 L675.6,304.70" fill="none" stroke="#66a61e" stroke-width="1.8" stroke-linejoin="round"/>
<path d="M491.5,281.80 L512.8,279.03 L525.2,279.23 L534.1,281.94 L540.9,284.73 L546.5,287.28 L551.3,289.62 L555.4,291.75 L559.0,293.49 L562.2,294.93 L565.1,296.19 L567.8,297.25 L570.3,298.08 L572.5,298.73 L574.7,299.28 L576.6,299.75 L578.5,300.15 L580.3,300.50 L581.9,300.81 L583.5,301.08 L585.0,301.32 L586.4,301.53 L587.8,301.73 L589.1,301.90 L590.4,302.06 L591.6,302.21 L592.7,302.36 L593.8,302.49 L594.9,302.63 L596.0,302.75 L597.0,302.88 L597.9,302.99 L598.9,303.11 L599.8,303.21 L600.7,303.31 L601.6,303.41 L602.4,303.50 L603.2,303.58 L604.8,303.74 L606.3,303.89 L607.7,304.03 L609.1,304.16 L610.4,304.27 L611.6,304.35 L612.8,304.41 L614.0,304.45 L615.1,304.48 L616.2,304.52 L617.2,304.55 L618.2,304.58 L619.2,304.60 L620.2,304.62 L620.6,304.63" fill="none" stroke="#66a61e" stroke-width="1.8" stroke-linejoin="round" stroke-dasharray="4.4 4.4"/>
<path d="M491.5,214.30 L512.8,200.49 L525.2,192.15 L534.1,187.94 L540.9,186.55 L546.5,186.21 L551.3,186.35 L555.4,186.58 L559.0,186.99 L562.2,187.60 L565.1,188.16 L567.8,188.55 L570.3,188.84 L572.5,189.10 L574.7,189.30 L576.6,189.45 L578.5,189.54 L580.3,189.63 L581.9,189.70 L583.5,189.77 L585.0,189.82 L586.4,189.86 L587.8,189.88 L589.1,189.90 L590.4,189.90 L591.6,189.90 L592.7,189.90 L593.8,189.90 L594.9,189.90 L596.0,189.90 L597.0,189.90 L597.9,189.90 L598.9,189.90 L599.8,189.90 L600.7,189.90 L601.6,189.90 L602.4,189.90 L603.2,189.90 L604.8,189.90 L606.3,189.90 L607.7,189.90 L609.1,189.90 L610.4,189.90 L611.6,189.90 L612.8,189.90 L614.0,189.90 L615.1,189.90 L616.2,189.90 L617.2,189.90 L618.2,189.90 L619.2,189.90 L620.2,189.90 L621.1,189.90 L622.0,189.90 L622.8,189.90 L623.7,189.90 L624.5,189.90 L625.7,189.90 L626.8,189.90 L627.9,189.90 L629.0,189.90 L630.0,189.90 L631.0,189.90 L632.0,189.90 L632.9,189.90 L633.8,189.90 L634.7,189.90 L635.6,189.90 L636.4,189.90 L637.2,189.90 L638.3,189.90 L639.3,189.90 L640.3,189.90 L641.2,189.90 L642.1,189.90 L643.0,189.90 L643.9,189.90 L644.8,189.90 L645.6,189.90 L646.4,189.90 L647.4,189.90 L648.3,189.90 L649.2,189.90 L650.1,189.90 L651.0,189.90 L651.8,189.90 L652.6,189.90 L653.6,189.90 L654.5,189.90 L655.4,189.90 L656.3,189.90 L657.1,189.90 L658.0,189.90 L658.8,189.90 L659.7,189.90 L660.6,189.90 L661.4,189.90 L662.3,189.90 L663.1,189.90 L664.0,189.90 L664.9,189.90 L665.7,189.90 L666.6,189.90 L667.4,189.90 L668.3,189.90 L669.1,189.90 L670.0,189.90 L670.8,189.90 L671.7,189.90 L672.5,189.90 L673.4,189.90 L674.2,189.90 L675.0,189.90 L675.6,189.90" fill="none" stroke="#e9a52a" stroke-width="1.8" stroke-linejoin="round"/>
<path d="M491.5,290.50 L512.8,273.91 L525.2,253.61 L534.1,231.26 L540.9,214.73 L546.5,203.36 L551.3,197.76 L555.4,194.80 L559.0,193.22 L562.2,192.22 L565.1,191.55 L567.8,191.05 L570.3,190.64 L572.5,190.35 L574.7,190.20 L576.6,190.13 L578.5,190.07 L580.3,190.03 L581.9,189.99" fill="none" stroke="#e9a52a" stroke-width="1.8" stroke-linejoin="round" stroke-dasharray="4.4 4.4"/>
</g>
<text x="478.70" y="320.40" font-family="Liberation Serif, serif" font-size="13.8" textLength="7.50" lengthAdjust="spacingAndGlyphs">0</text>
<text x="467.10" y="264.50" font-family="Liberation Serif, serif" font-size="13.8" textLength="19.10" lengthAdjust="spacingAndGlyphs">0.2</text>
<text x="467.10" y="209.20" font-family="Liberation Serif, serif" font-size="13.8" textLength="19.10" lengthAdjust="spacingAndGlyphs">0.4</text>
<text x="523.47" y="333.00" font-family="Liberation Serif, serif" font-size="14.0" textLength="14.30" lengthAdjust="spacingAndGlyphs">10</text>
<text x="537.97" y="327.70" font-family="Liberation Serif, serif" font-size="11.7" textLength="5.30" lengthAdjust="spacingAndGlyphs">0</text>
<text x="594.19" y="333.00" font-family="Liberation Serif, serif" font-size="14.0" textLength="14.30" lengthAdjust="spacingAndGlyphs">10</text>
<text x="608.69" y="327.70" font-family="Liberation Serif, serif" font-size="11.7" textLength="5.30" lengthAdjust="spacingAndGlyphs">1</text>
<text x="664.90" y="333.00" font-family="Liberation Serif, serif" font-size="14.0" textLength="14.30" lengthAdjust="spacingAndGlyphs">10</text>
<text x="679.40" y="327.70" font-family="Liberation Serif, serif" font-size="11.7" textLength="5.30" lengthAdjust="spacingAndGlyphs">2</text>
<text x="338.00" y="352.60" font-family="Liberation Serif, serif" font-size="14.2" textLength="32.90" lengthAdjust="spacingAndGlyphs">Time</text>
<text transform="translate(10.5,284.9) rotate(-90)" font-family="Liberation Serif, serif" font-size="14.6" textLength="76.3" lengthAdjust="spacingAndGlyphs">Abundance</text>
</svg></body></html>
